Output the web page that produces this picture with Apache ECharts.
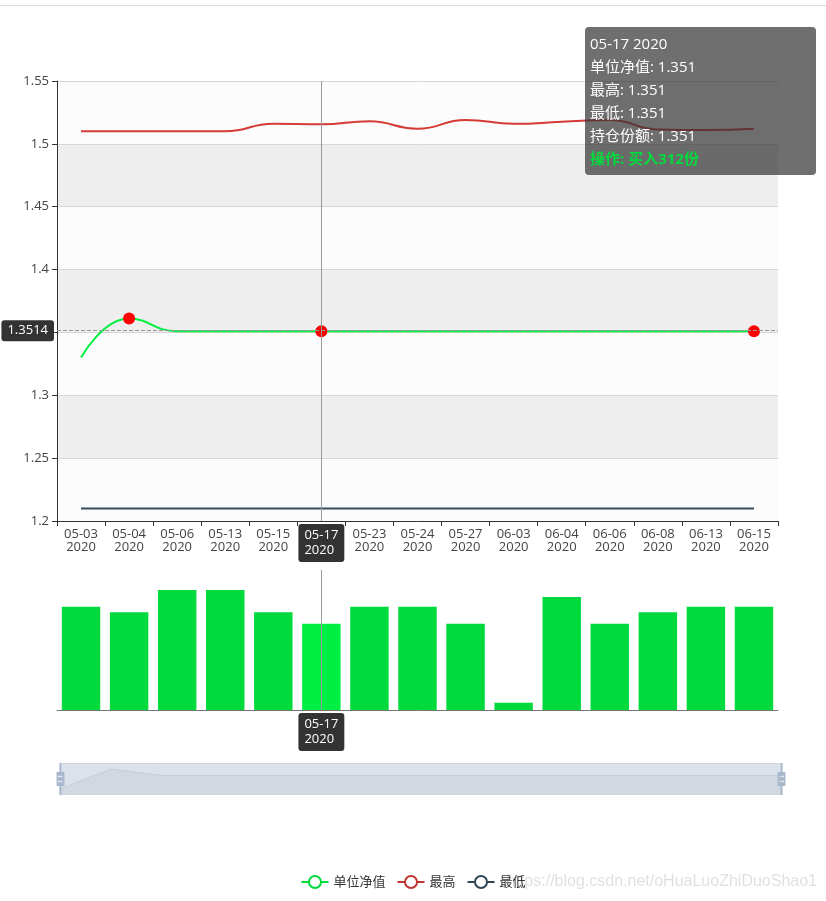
<!DOCTYPE html>
<html><head><meta charset="utf-8">
<script src="https://cdn.jsdelivr.net/npm/echarts@6/dist/echarts.min.js"></script>
<style>html,body{margin:0;padding:0;background:#fff}#main{width:826px;height:901px}</style>
</head><body><div id="main"></div>
<script>
const dates = ['2020-05-03','2020-05-04','2020-05-06','2020-05-13','2020-05-15','2020-05-17','2020-05-23','2020-05-24','2020-05-27','2020-06-03','2020-06-04','2020-06-06','2020-06-08','2020-06-13','2020-06-15'];
const netValue = [1.33,1.361,1.351,1.351,1.351,1.351,1.351,1.351,1.351,1.351,1.351,1.351,1.351,1.351,1.351];
const highValue = [1.51,1.51,1.51,1.51,1.516,1.5155,1.518,1.512,1.519,1.516,1.5175,1.519,1.5115,1.511,1.512];
const lowValue = [1.21,1.21,1.21,1.21,1.21,1.21,1.21,1.21,1.21,1.21,1.21,1.21,1.21,1.21,1.21];
const volume = [1033,977,1200,1200,977,863,1033,1033,863,73,1130,863,977,1033,1033];
const buyDates = ['2020-05-04','2020-05-17','2020-06-15'];
const buyShares = [300,312,300];
const yMin = 1.2, yMax = 1.55, yStep = 0.05;
const hoverDate = '2020-05-17', hoverValue = 1.3514;

const fmtNL = d => d.slice(5) + '\n' + d.slice(0,4);
const fmtSP = d => d.slice(5) + ' ' + d.slice(0,4);
const FONT = "'Microsoft YaHei','Open Sans','Noto Sans CJK SC',sans-serif";

const chart = echarts.init(document.getElementById('main'));
const lineCommon = {
  type: 'line', xAxisIndex: 0, yAxisIndex: 0,
  smooth: true, symbol: 'emptyCircle', symbolSize: 0, showSymbol: false,
  itemStyle: { borderWidth: 0 },
  emphasis: { scale: false, itemStyle: { opacity: 0 } }
};
const pointerLabel = { formatter: p => fmtNL(p.value), backgroundColor: '#333', color: '#fff', padding: [4,6,4,6], lineHeight: 15, fontSize: 13, fontFamily: FONT };
const option = {
  animation: false,
  textStyle: { fontFamily: FONT },
  graphic: [
    { type: 'line', shape: { x1: 0, y1: 5.5, x2: 826, y2: 5.5 }, style: { stroke: '#dcdcdc', lineWidth: 1 } },
    { type: 'text', right: 9, top: 874, z: -10,
      style: { text: 'https://blog.csdn.net/oHuaLuoZhiDuoShao1', fill: 'rgba(0,0,0,0.13)', font: '16px "Liberation Sans", Arial, sans-serif' } }
  ],
  legend: {
    data: ['单位净值', '最高', '最低'],
    left: 'center', top: 870, itemWidth: 27, itemHeight: 15, itemGap: 11,
    textStyle: { color: '#333', fontSize: 13, fontFamily: FONT }
  },
  tooltip: {
    trigger: 'axis',
    alwaysShowContent: true,
    transitionDuration: 0,
    position: [585, 27],
    backgroundColor: 'rgba(50,50,50,0.7)',
    borderWidth: 0,
    borderRadius: 4,
    padding: 5,
    textStyle: { color: '#fff', fontSize: 15, fontFamily: FONT },
    extraCssText: 'box-shadow:none;width:221px;line-height:23px;',
    axisPointer: {
      type: 'cross',
      lineStyle: { color: '#9a9a9a', width: 1, type: 'solid' },
      crossStyle: { color: '#9a9a9a', width: 1, type: 'dashed' }
    },
    formatter: function (params) {
      const i = params[0].dataIndex;
      const d = dates[i];
      const v = netValue[i];
      const bi = buyDates.indexOf(d);
      let s = '<div>' + fmtSP(d) + '</div>' +
        '<div>单位净值: ' + v + '</div>' +
        '<div>最高: ' + v + '</div>' +
        '<div>最低: ' + v + '</div>' +
        '<div>持仓份额: ' + v + '</div>';
      if (bi >= 0) s += '<div style="color:#00da3c;font-weight:bold">操作: 买入' + buyShares[bi] + '份</div>';
      return s;
    }
  },
  axisPointer: {
    link: [{ xAxisIndex: 'all' }],
    label: { backgroundColor: '#333' }
  },
  grid: [
    { left: 57, right: 48, top: 81, height: 440 },
    { left: 57, right: 48, top: 570, height: 140 }
  ],
  xAxis: [
    {
      type: 'category', gridIndex: 0, data: dates, boundaryGap: true,
      axisLine: { show: true, lineStyle: { color: '#333' } },
      axisTick: { show: true, length: 5 },
      axisLabel: { formatter: fmtNL, color: '#444', fontSize: 13, lineHeight: 13, interval: 0, margin: 7 },
      splitLine: { show: false },
      axisPointer: { label: pointerLabel }
    },
    {
      type: 'category', gridIndex: 1, data: dates, boundaryGap: true,
      axisLine: { show: true, lineStyle: { color: '#777' } },
      axisTick: { show: false },
      axisLabel: { show: false },
      splitLine: { show: false },
      axisPointer: { label: pointerLabel }
    }
  ],
  yAxis: [
    {
      type: 'value', gridIndex: 0, min: yMin, max: yMax, interval: yStep,
      axisLine: { show: true, lineStyle: { color: '#333' } },
      axisTick: { show: true, length: 5 },
      axisLabel: { color: '#444', fontSize: 13 },
      splitLine: { show: true, lineStyle: { color: '#d6d6d6' } },
      splitArea: { show: true, areaStyle: { color: ['#fcfcfc', '#eeeeee'] } },
      axisPointer: {
        label: { formatter: p => Number(p.value).toFixed(4), backgroundColor: '#333', color: '#fff', padding: [4,6,4,6], fontSize: 13, fontFamily: FONT }
      }
    },
    {
      type: 'value', gridIndex: 1, min: 0, max: 1400, show: false,
      splitLine: { show: false }
    }
  ],
  dataZoom: [
    {
      type: 'slider', xAxisIndex: [0, 1], start: 0, end: 100,
      left: 57, right: 46, top: 763, height: 32,
      showDetail: false, brushSelect: false, moveHandleSize: 0,
      backgroundColor: 'rgba(47,69,84,0)',
      borderColor: '#cfd6df',
      fillerColor: 'rgba(167,183,204,0.4)',
      handleIcon: 'path://M8.2,13.6V3.9H6.3v9.7H3.1v14.9h3.3v9.7h1.8v-9.7h3.3V13.6H8.2z M9.7,24.4H4.8v-1.4h4.9V24.4z M9.7,19.1H4.8v-1.4h4.9V19.1z',
      handleSize: '100%',
      handleStyle: { color: '#a7b7cc', borderColor: '#a7b7cc', borderWidth: 0 },
      dataBackground: {
        lineStyle: { color: '#2f4554', width: 0.5, opacity: 0.3 },
        areaStyle: { color: 'rgba(47,69,84,0.3)', opacity: 0.3 }
      },
      selectedDataBackground: {
        lineStyle: { color: '#2f4554', width: 0.5, opacity: 0.3 },
        areaStyle: { color: 'rgba(47,69,84,0.3)', opacity: 0.3 }
      }
    }
  ],
  series: [
    Object.assign({}, lineCommon, {
      name: '单位净值', data: netValue,
      color: '#00da3c', lineStyle: { width: 2, color: '#00da3c' },
      markPoint: {
        symbol: 'circle', symbolSize: 12,
        itemStyle: { color: '#ff0000' },
        label: { show: false },
        data: buyDates.map(d => ({ coord: [d, netValue[dates.indexOf(d)]] }))
      }
    }),
    Object.assign({}, lineCommon, {
      name: '最高', data: highValue,
      color: '#c23531', lineStyle: { width: 2, color: '#c23531' }
    }),
    Object.assign({}, lineCommon, {
      name: '最低', data: lowValue,
      color: '#2f4554', lineStyle: { width: 2, color: '#2f4554' }
    }),
    {
      name: '持仓', type: 'bar', xAxisIndex: 1, yAxisIndex: 1, data: volume,
      barCategoryGap: '20%',
      itemStyle: { color: '#00da3c' }
    }
  ]
};
chart.setOption(option);
const px = chart.convertToPixel({ xAxisIndex: 0 }, hoverDate);
const py = chart.convertToPixel({ yAxisIndex: 0 }, hoverValue);
chart.dispatchAction({ type: 'showTip', x: px, y: py });
</script>
</body></html>
